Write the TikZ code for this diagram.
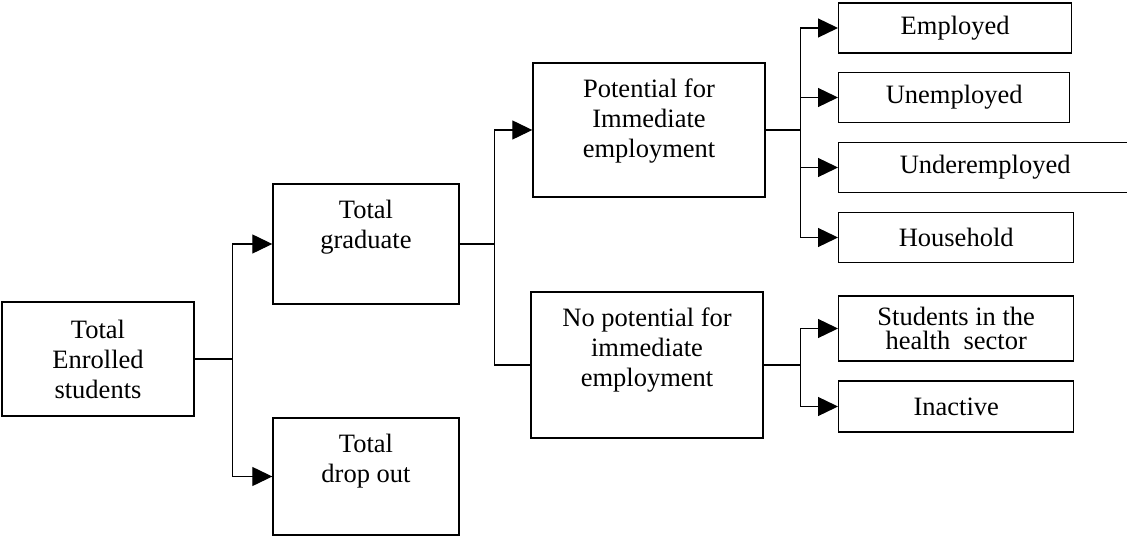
\documentclass[tikz,border=0pt]{standalone}
\usepackage{fontspec}
\setmainfont{Liberation Serif}
\usetikzlibrary{arrows.meta}
\begin{document}
\begin{tikzpicture}[x=1pt, y=-1pt, >={Triangle[length=20pt,width=19pt]},
        font=\fontsize{26.5}{30}\selectfont, line width=1.3pt,
        box/.style={draw, line width=1.4pt, inner sep=0pt, align=center},
        toptext/.style={label={[anchor=north, align=center, inner sep=2pt, yshift=-14pt]north:{#1}}}]
        \useasboundingbox (0,0) rectangle (1127,537);
        \node[box, minimum width=192pt, minimum height=114pt] (enr) at (98,359) {Total\\Enrolled\\students};
        \node[box, minimum width=186pt, minimum height=120pt, toptext={Total\\graduate}] (grad) at (366,244) {};
        \node[box, minimum width=186pt, minimum height=117pt, toptext={Total\\drop out}] (drop) at (366,476.5) {};
        \node[box, minimum width=232pt, minimum height=134pt, toptext={Potential for\\Immediate\\employment}] (pot) at (649,130) {};
        \node[box, minimum width=232pt, minimum height=146pt, toptext={No potential for\\immediate\\employment}] (nopot) at (647,365) {};
        \draw (enr.east) -- ++(38,0) coordinate (j1);
        \draw[->] (j1) |- (grad.west);
        \draw[->] (j1) |- (drop.west);
        \draw (grad.east) -- ++(35,0) coordinate (j2);
        \draw[->] (j2) |- (pot.west);
        \draw (j2) |- (nopot.west);
        \draw (pot.east) -- ++(35,0) coordinate (j3);
        \foreach \nm/\txt/\y/\w in {emp/Employed/28/233, unemp/Unemployed/97.5/231, under/Underemployed/167.5/293, house/Household/237.5/235}
            {
                \node[box, minimum width=\w pt, minimum height=50pt, anchor=west] (\nm) at (838,\y) {\txt};
                \draw[->] (j3) |- (\nm.west);
            }
        \draw (nopot.east) -- ++(37,0) coordinate (j4);
        \node[box, minimum width=235pt, minimum height=65pt, anchor=west, font=\fontsize{26.5}{24}\selectfont] (stud) at (838,328.5) {Students in the\\health\ \ sector};
        \node[box, minimum width=235pt, minimum height=51pt, anchor=west] (inact) at (838,406.5) {Inactive};
        \foreach \nm in {stud,inact}{ \draw[->] (j4) |- (\nm.west);}
    \end{tikzpicture}
\end{document}
